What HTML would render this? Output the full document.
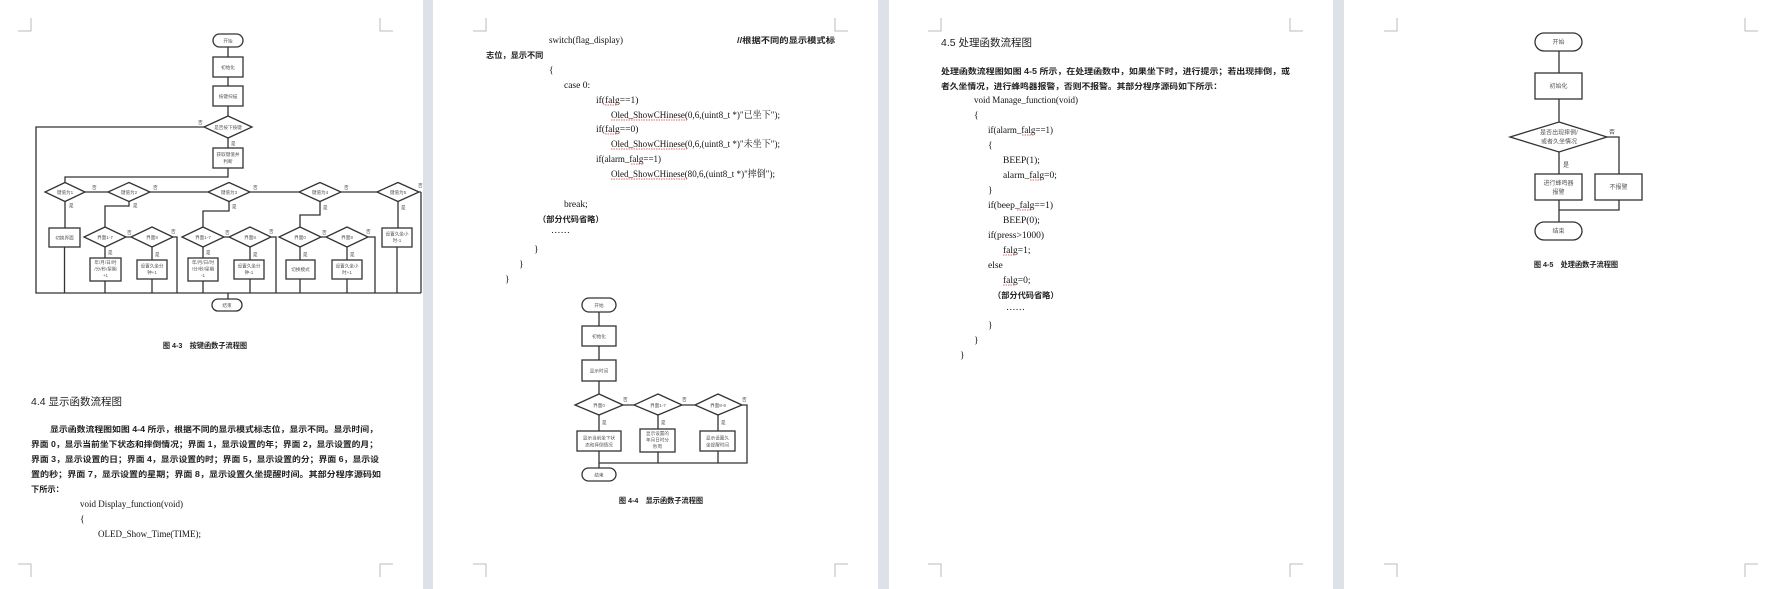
<!DOCTYPE html>
<html><head><meta charset="utf-8"><style>
html,body{margin:0;padding:0;background:#fff;}
svg{display:block;}
.cn{font-family:"Liberation Sans","Noto Sans CJK SC",sans-serif;}
.fc{font-family:"Liberation Sans","Noto Sans CJK SC",sans-serif;font-size:4.6px;fill:#555;text-anchor:middle;}
.lb{font-family:"Liberation Sans","Noto Sans CJK SC",sans-serif;font-size:4.6px;fill:#444;}
.body{font-family:"Liberation Sans","Noto Sans CJK SC",sans-serif;font-size:8.2px;fill:#222;font-weight:bold;}
.code{font-family:"Liberation Serif","Noto Serif CJK SC",serif;font-size:9.5px;fill:#111;}
.cap{font-family:"Liberation Sans","Noto Sans CJK SC",sans-serif;font-size:7.2px;fill:#222;font-weight:bold;text-anchor:middle;}
.h{font-family:"Liberation Sans","Noto Sans CJK SC",sans-serif;font-size:10.5px;fill:#222;}
.s{fill:none;stroke:#333;stroke-width:1.3;}
.b{fill:#fff;stroke:#333;stroke-width:1.3;}
.cm{fill:none;stroke:#bbb;stroke-width:1;}
</style></head><body>
<svg width="1767" height="589" viewBox="0 0 1767 589" xmlns="http://www.w3.org/2000/svg">
<rect x="0" y="0" width="1767" height="589" fill="#fff"/>
<!-- separators -->
<rect x="423" y="0" width="10" height="589" fill="#dde2e8"/>
<rect x="878" y="0" width="11" height="589" fill="#dde2e8"/>
<rect x="1333" y="0" width="11" height="589" fill="#dde2e8"/>
<!-- corner marks -->
<path class="cm" d="M18,31H31V18 M380,18V31H393 M18,564H31V577 M380,577V564H393
M473,31H486V18 M835,18V31H848 M473,564H486V577 M835,577V564H848
M928,31H941V18 M1290,18V31H1303 M928,564H941V577 M1290,577V564H1303
M1384,31H1397V18 M1745,18V31H1758 M1384,564H1397V577 M1745,577V564H1758"/>

<!-- ============ PAGE 1 flowchart ============ -->
<g>
<path class="s" d="M228,47V57 M228,77V86 M228,106V116 M228,138V148 M228,168V177H65V182.5
M204,127H36V293H421 M421,192V293
M85,192H108 M150,192H208 M250,192H299 M341,192H377 M419,192H421
M65,201.5V228 M64.5,247V293
M129,201.5V206H105V227 M126,237H131 M173,237H177V293 M105,247V258 M105,281V293 M152,247V260 M152,279V293
M229,201.5V211H203V227 M224,237H229 M271,237H276V293 M203,247V258 M203,281V293 M250,247V260 M250,279V293
M320,201.5V215H300V227 M321,237H326 M368,237H375V293 M300,247V260 M300,279V293 M347,247V260 M347,279V293
M398,201.5V228 M397,247V293 M228,293V299"/>
<rect class="b" x="213" y="34" width="30" height="13" rx="6.5"/><text class="fc" x="228" y="42.5">开始</text>
<rect class="b" x="213" y="57" width="30" height="20"/><text class="fc" x="228" y="69">初始化</text>
<rect class="b" x="213" y="86" width="30" height="20"/><text class="fc" x="228" y="98">按键扫描</text>
<polygon class="b" points="228,116 252,127 228,138 204,127"/><text class="fc" x="228" y="129">是否按下按键</text>
<text class="lb" x="198" y="124">否</text><text class="lb" x="231" y="145">是</text>
<rect class="b" x="213" y="148" width="30" height="20"/><text class="fc" x="228" y="156">获取键值并</text><text class="fc" x="228" y="163">判断</text>
<polygon class="b" points="65,182.5 85,192 65,201.5 45,192"/><text class="fc" x="65" y="194">键值为1</text>
<polygon class="b" points="129,182.5 150,192 129,201.5 108,192"/><text class="fc" x="129" y="194">键值为2</text>
<polygon class="b" points="229,182.5 250,192 229,201.5 208,192"/><text class="fc" x="229" y="194">键值为3</text>
<polygon class="b" points="320,182.5 341,192 320,201.5 299,192"/><text class="fc" x="320" y="194">键值为4</text>
<polygon class="b" points="398,182.5 419,192 398,201.5 377,192"/><text class="fc" x="398" y="194">键值为5</text>
<text class="lb" x="92" y="189">否</text><text class="lb" x="153" y="189">否</text><text class="lb" x="253" y="189">否</text><text class="lb" x="344" y="189">否</text><text class="lb" x="418" y="187">否</text>
<text class="lb" x="69" y="207">是</text><text class="lb" x="133" y="207">是</text><text class="lb" x="232" y="208">是</text><text class="lb" x="323" y="209">是</text><text class="lb" x="401" y="209">是</text>
<rect class="b" x="49" y="228" width="31" height="19"/><text class="fc" x="64.5" y="239.5">切换界面</text>
<polygon class="b" points="105,227 126,237 105,247 84,237"/><text class="fc" x="105" y="239">界面1-7</text>
<polygon class="b" points="152,227 173,237 152,247 131,237"/><text class="fc" x="152" y="239">界面8</text>
<polygon class="b" points="203,227 224,237 203,247 182,237"/><text class="fc" x="203" y="239">界面1-7</text>
<polygon class="b" points="250,227 271,237 250,247 229,237"/><text class="fc" x="250" y="239">界面8</text>
<polygon class="b" points="300,227 321,237 300,247 279,237"/><text class="fc" x="300" y="239">界面0</text>
<polygon class="b" points="347,227 368,237 347,247 326,237"/><text class="fc" x="347" y="239">界面9</text>
<text class="lb" x="127" y="234">否</text><text class="lb" x="171" y="233">否</text><text class="lb" x="225" y="234">否</text><text class="lb" x="269" y="233">否</text><text class="lb" x="322" y="234">否</text><text class="lb" x="366" y="233">否</text>
<text class="lb" x="108" y="254">是</text><text class="lb" x="155" y="256">是</text><text class="lb" x="206" y="254">是</text><text class="lb" x="253" y="256">是</text><text class="lb" x="303" y="256">是</text><text class="lb" x="350" y="256">是</text>
<rect class="b" x="90" y="258" width="31" height="23"/><text class="fc" x="105.5" y="264">年/月/日/时</text><text class="fc" x="105.5" y="270.5">/分/秒/星期</text><text class="fc" x="105.5" y="277">+1</text>
<rect class="b" x="137" y="260" width="30" height="19"/><text class="fc" x="152" y="267.5">设置久坐分</text><text class="fc" x="152" y="274">钟+1</text>
<rect class="b" x="188" y="258" width="30" height="23"/><text class="fc" x="203" y="264">年/月/日/时</text><text class="fc" x="203" y="270.5">/分/秒/星期</text><text class="fc" x="203" y="277">-1</text>
<rect class="b" x="234" y="260" width="30" height="19"/><text class="fc" x="249" y="267.5">设置久坐分</text><text class="fc" x="249" y="274">钟-1</text>
<rect class="b" x="286" y="260" width="29" height="19"/><text class="fc" x="300.5" y="271">切换模式</text>
<rect class="b" x="332" y="260" width="30" height="19"/><text class="fc" x="347" y="267.5">设置久坐小</text><text class="fc" x="347" y="274">时+1</text>
<rect class="b" x="382" y="228" width="30" height="19"/><text class="fc" x="397" y="235.5">设置久坐小</text><text class="fc" x="397" y="242">时-1</text>
<rect class="b" x="212" y="299" width="30" height="12" rx="6"/><text class="fc" x="227" y="307">结束</text>
</g>
<text class="cap" x="205" y="348">图 4-3　按键函数子流程图</text>
<text class="h" x="31" y="405">4.4  显示函数流程图</text>
<text class="body" x="50" y="432" textLength="328" lengthAdjust="spacingAndGlyphs">显示函数流程图如图 4-4 所示，根据不同的显示模式标志位，显示不同。显示时间，</text>
<text class="body" x="31" y="447" textLength="347" lengthAdjust="spacingAndGlyphs">界面 0，显示当前坐下状态和摔倒情况；界面 1，显示设置的年；界面 2，显示设置的月；</text>
<text class="body" x="31" y="462" textLength="348" lengthAdjust="spacingAndGlyphs">界面 3，显示设置的日；界面 4，显示设置的时；界面 5，显示设置的分；界面 6，显示设</text>
<text class="body" x="31" y="477" textLength="350" lengthAdjust="spacingAndGlyphs">置的秒；界面 7，显示设置的星期；界面 8，显示设置久坐提醒时间。其部分程序源码如</text>
<text class="body" x="31" y="492">下所示：</text>
<text class="code" x="80" y="507" textLength="103" lengthAdjust="spacingAndGlyphs">void Display_function(void)</text>
<text class="code" x="80" y="522">{</text>
<text class="code" x="98" y="537" textLength="103" lengthAdjust="spacingAndGlyphs">OLED_Show_Time(TIME);</text>

<!-- ============ PAGE 2 ============ -->
<text class="code" x="549" y="43" textLength="74" lengthAdjust="spacingAndGlyphs">switch(flag_display)</text>
<text class="body" x="737" y="43" textLength="98" lengthAdjust="spacingAndGlyphs">//根据不同的显示模式标</text>
<text class="body" x="486" y="58">志位，显示不同</text>
<text class="code" x="549" y="73">{</text>
<text class="code" x="564" y="88">case 0:</text>
<text class="code" x="596" y="103">if(falg==1)</text>
<text class="code" x="611" y="118" textLength="169" lengthAdjust="spacingAndGlyphs">Oled_ShowCHinese(0,6,(uint8_t *)"已坐下");</text>
<text class="code" x="596" y="132">if(falg==0)</text>
<text class="code" x="611" y="147" textLength="169" lengthAdjust="spacingAndGlyphs">Oled_ShowCHinese(0,6,(uint8_t *)"未坐下");</text>
<text class="code" x="596" y="162" textLength="65" lengthAdjust="spacingAndGlyphs">if(alarm_falg==1)</text>
<text class="code" x="611" y="177" textLength="164" lengthAdjust="spacingAndGlyphs">Oled_ShowCHinese(80,6,(uint8_t *)"摔倒");</text>
<path d="M611,120H687 M611,149H687 M611,179H687 M605,105H618 M605,134H618 M631,164H644" stroke="#d33" stroke-width="0.8" stroke-dasharray="1.5,1" fill="none"/>
<text class="code" x="564" y="207">break;</text>
<text class="body" x="538" y="222">（部分代码省略）</text>
<text class="code" x="551" y="233">……</text>
<text class="code" x="534" y="252">}</text>
<text class="code" x="519" y="267">}</text>
<text class="code" x="505" y="282">}</text>
<g>
<path class="s" d="M599,312V326 M599,346V360 M599,381V394 M623,405H634 M682,405H695 M742,405H747V463H599 M599,415V431 M599,451V468 M658,415V429 M658,452V463 M718,415V431 M718,451V463"/>
<rect class="b" x="582" y="298" width="34" height="14" rx="7"/><text class="fc" x="599" y="307">开始</text>
<rect class="b" x="582" y="326" width="34" height="20"/><text class="fc" x="599" y="338">初始化</text>
<rect class="b" x="582" y="360" width="34" height="21"/><text class="fc" x="599" y="372.5">显示时间</text>
<polygon class="b" points="599,394 623,405 599,415 575,405"/><text class="fc" x="599" y="407">界面0</text>
<polygon class="b" points="658,394 682,405 658,415 634,405"/><text class="fc" x="658" y="407">界面1-7</text>
<polygon class="b" points="718,394 742,405 718,415 695,405"/><text class="fc" x="718" y="407">界面8-9</text>
<text class="lb" x="623" y="401">否</text><text class="lb" x="682" y="401">否</text><text class="lb" x="742" y="401">否</text>
<text class="lb" x="602" y="424">是</text><text class="lb" x="661" y="424">是</text><text class="lb" x="721" y="424">是</text>
<rect class="b" x="577" y="431" width="44" height="20"/><text class="fc" x="599" y="439.5">显示当前坐下状</text><text class="fc" x="599" y="446.5">态和摔倒情况</text>
<rect class="b" x="640" y="429" width="35" height="23"/><text class="fc" x="657.5" y="435">显示设置的</text><text class="fc" x="657.5" y="441.5">年月日时分</text><text class="fc" x="657.5" y="448">秒周</text>
<rect class="b" x="700" y="431" width="35" height="20"/><text class="fc" x="717.5" y="439.5">显示设置久</text><text class="fc" x="717.5" y="446.5">坐提醒时间</text>
<rect class="b" x="582" y="468" width="34" height="13" rx="6.5"/><text class="fc" x="599" y="476.5">结束</text>
</g>
<text class="cap" x="661" y="503">图 4-4　显示函数子流程图</text>

<!-- ============ PAGE 3 ============ -->
<text class="h" x="941" y="46">4.5  处理函数流程图</text>
<text class="body" x="941" y="74" textLength="349" lengthAdjust="spacingAndGlyphs">处理函数流程图如图 4-5 所示，在处理函数中，如果坐下时，进行提示；若出现摔倒，或</text>
<text class="body" x="941" y="89" textLength="281" lengthAdjust="spacingAndGlyphs">者久坐情况，进行蜂鸣器报警，否则不报警。其部分程序源码如下所示：</text>
<text class="code" x="974" y="103" textLength="104" lengthAdjust="spacingAndGlyphs">void Manage_function(void)</text>
<text class="code" x="974" y="118">{</text>
<text class="code" x="988" y="133" textLength="65" lengthAdjust="spacingAndGlyphs">if(alarm_falg==1)</text>
<text class="code" x="988" y="148">{</text>
<text class="code" x="1003" y="163">BEEP(1);</text>
<text class="code" x="1003" y="178">alarm_falg=0;</text>
<text class="code" x="988" y="193">}</text>
<text class="code" x="988" y="208">if(beep_falg==1)</text>
<text class="code" x="1003" y="223">BEEP(0);</text>
<text class="code" x="988" y="238">if(press&gt;1000)</text>
<text class="code" x="1003" y="253">falg=1;</text>
<text class="code" x="988" y="268">else</text>
<text class="code" x="1003" y="283">falg=0;</text>
<text class="body" x="993" y="298">（部分代码省略）</text>
<text class="code" x="1006" y="310">……</text>
<text class="code" x="988" y="328">}</text>
<text class="code" x="974" y="343">}</text>
<text class="code" x="960" y="358">}</text>
<path d="M1022,135H1034 M1030,180H1042 M1017,210H1032 M1003,255H1016 M1003,285H1016" stroke="#d33" stroke-width="0.8" stroke-dasharray="1.5,1" fill="none"/>

<!-- ============ PAGE 4 ============ -->
<g>
<path class="s" d="M1559,51V73 M1559,99V122 M1607,137H1619V174 M1559,152V174 M1559,200V222 M1619,200V210H1559"/>
<rect class="b" x="1535" y="33" width="47" height="18" rx="9"/><text class="fc" style="font-size:6px" x="1558.5" y="44">开始</text>
<rect class="b" x="1535" y="73" width="47" height="26"/><text class="fc" style="font-size:6px" x="1558.5" y="88">初始化</text>
<polygon class="b" points="1559,122 1607,137 1559,152 1510,137"/><text class="fc" style="font-size:6px" x="1559" y="134.5">是否出现摔倒/</text><text class="fc" style="font-size:6px" x="1559" y="143.5">或者久坐情况</text>
<text class="lb" style="font-size:6px" x="1609" y="134">否</text><text class="lb" style="font-size:6px" x="1563" y="167">是</text>
<rect class="b" x="1535" y="174" width="47" height="26"/><text class="fc" style="font-size:6px" x="1558.5" y="185">进行蜂鸣器</text><text class="fc" style="font-size:6px" x="1558.5" y="194">报警</text>
<rect class="b" x="1595" y="174" width="47" height="26"/><text class="fc" style="font-size:6px" x="1618.5" y="189">不报警</text>
<rect class="b" x="1535" y="222" width="47" height="18" rx="9"/><text class="fc" style="font-size:6px" x="1558.5" y="233">结束</text>
</g>
<text class="cap" x="1576" y="267">图 4-5　处理函数子流程图</text>
</svg>
</body></html>
